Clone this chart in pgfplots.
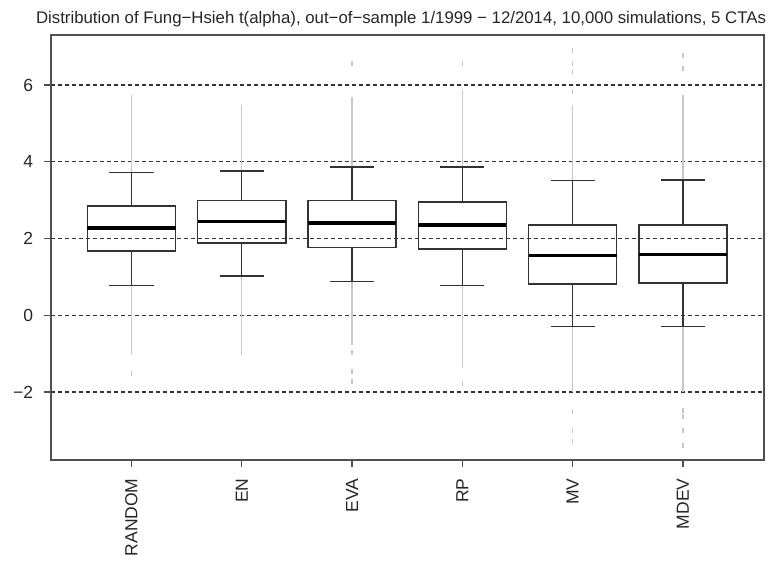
\documentclass[border=0pt]{standalone}
\usepackage{fontspec}
\setmainfont{Liberation Sans}
\usepackage{pgfplots}
\pgfplotsset{compat=1.18}
\usepgfplotslibrary{statistics}
\definecolor{framec}{HTML}{505050}
\definecolor{boxc}{HTML}{333333}
\definecolor{outl}{HTML}{C8C8C8}
\begin{document}
\begin{tikzpicture}[x=1bp,y=1bp]
\path (0,0) rectangle (778,562);
\node[anchor=base, font=\fontsize{16.8bp}{19bp}\selectfont, text=black!85] at (401,538) {Distribution of Fung−Hsieh t(alpha), out−of−sample 1/1999 − 12/2014, 10,000 simulations, 5 CTAs};
\begin{axis}[at={(50.7bp,102bp)}, anchor=south west, scale only axis,
 width=713.3bp, height=425bp,
 xmin=0.268, xmax=6.735, ymin=-3.77, ymax=7.305,
 xtick={1,2,3,4,5,6}, xticklabels={RANDOM,EN,EVA,RP,MV,MDEV},
 ytick={-2,0,2,4,6}, yticklabels={−2,0,2,4,6},
 ymajorgrids, grid style={boxc, dash pattern=on 4bp off 3bp, line width=1.2bp},
 axis line style={framec, line width=1.6bp},
 tick style={framec, line width=1.3bp},
 tick align=outside, major tick length=7bp,
 xtick pos=bottom, ytick pos=left,
 ticklabel style={font=\fontsize{17.5bp}{20bp}\selectfont, text=black!85},
 xticklabel style={rotate=90, anchor=east, xshift=-8bp},
 yticklabel style={anchor=east, xshift=-7bp},
 boxplot/draw direction=y,
 boxplot/box extend=0.8, boxplot/whisker extend=0.4,
 boxplot/every median/.style={black, line width=3.5bp},
 boxplot/every whisker/.style={boxc, line width=1.4bp},
 boxplot/every box/.style={boxc, line width=1.4bp},
]
% outlier ranges (points beyond the whiskers)
\addplot[outl, line width=1.5bp] coordinates {(1,3.72) (1,5.74)};
\addplot[outl, line width=1.5bp] coordinates {(1,0.77) (1,-1.03)};
\addplot[outl, line width=1.5bp] coordinates {(2,3.76) (2,5.48)};
\addplot[outl, line width=1.5bp] coordinates {(2,1.02) (2,-1.03)};
\addplot[outl, line width=1.5bp] coordinates {(3,3.86) (3,5.70)};
\addplot[outl, line width=1.5bp] coordinates {(3,0.88) (3,-0.77)};
\addplot[outl, line width=1.5bp] coordinates {(4,3.86) (4,5.87)};
\addplot[outl, line width=1.5bp] coordinates {(4,0.77) (4,-1.37)};
\addplot[outl, line width=1.5bp] coordinates {(5,3.51) (5,5.48)};
\addplot[outl, line width=1.5bp] coordinates {(5,-0.29) (5,-2.00)};
\addplot[outl, line width=1.5bp] coordinates {(6,3.53) (6,5.74)};
\addplot[outl, line width=1.5bp] coordinates {(6,-0.29) (6,-2.00)};
\addplot[only marks, mark=|, mark size=2.5bp, outl, mark options={line width=1.3bp}] coordinates {
 (1,-1.51)
 (3,6.57) (3,-0.98) (3,-1.47) (3,-1.73)
 (4,6.57) (4,-1.77)
 (5,5.83) (5,6.35) (5,6.57) (5,6.90) (5,-2.51) (5,-2.99) (5,-3.29)
 (6,6.44) (6,6.78) (6,-2.47) (6,-2.64) (6,-2.99) (6,-3.38)
};
% boxes
\addplot[boxplot prepared={draw position=1, lower whisker=0.77, lower quartile=1.68, median=2.28, upper quartile=2.85, upper whisker=3.72}, boxc, line width=1.4bp] coordinates {};
\addplot[boxplot prepared={draw position=2, lower whisker=1.02, lower quartile=1.88, median=2.44, upper quartile=2.99, upper whisker=3.76}, boxc, line width=1.4bp] coordinates {};
\addplot[boxplot prepared={draw position=3, lower whisker=0.88, lower quartile=1.77, median=2.40, upper quartile=2.99, upper whisker=3.86}, boxc, line width=1.4bp] coordinates {};
\addplot[boxplot prepared={draw position=4, lower whisker=0.77, lower quartile=1.73, median=2.36, upper quartile=2.95, upper whisker=3.86}, boxc, line width=1.4bp] coordinates {};
\addplot[boxplot prepared={draw position=5, lower whisker=-0.29, lower quartile=0.82, median=1.56, upper quartile=2.35, upper whisker=3.51}, boxc, line width=1.4bp] coordinates {};
\addplot[boxplot prepared={draw position=6, lower whisker=-0.29, lower quartile=0.84, median=1.58, upper quartile=2.35, upper whisker=3.53}, boxc, line width=1.4bp] coordinates {};
\end{axis}
\end{tikzpicture}
\end{document}
